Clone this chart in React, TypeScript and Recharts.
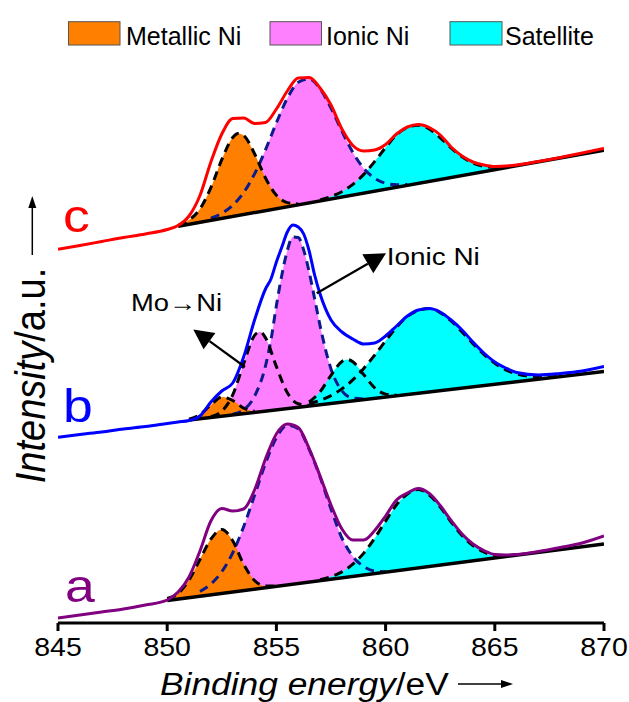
import * as React from "react"
import { ComposedChart, Area, Line, XAxis, YAxis } from "recharts"

// binding energy (eV), intensity (pixels above the x axis)
const ENV_A: [number, number][] = [
  [845, 5], [846, 8], [847, 11], [848, 14], [849, 18], [850, 23], [850.5, 31], [851, 46],
  [851.5, 72], [852, 102], [852.5, 114.5], [853, 112], [853.5, 114], [854, 133], [854.5, 164],
  [855, 189], [855.5, 199], [856, 195.5], [856.5, 174.5], [857, 147], [857.5, 118], [858, 94],
  [858.5, 83], [859, 83], [859.5, 92.5], [860, 107], [860.5, 123], [861, 130], [861.5, 134.5],
  [862, 129.5], [862.5, 117.5], [863, 102.5], [863.5, 89], [864, 79], [864.5, 72.5], [865, 68.5],
  [865.5, 68], [866, 68.5], [867, 71.5], [868, 75.5], [869, 80], [870, 87],
]
const ENV_B: [number, number][] = [
  [845, 185.7], [846, 188.5], [847, 191], [848, 194], [849, 196.5], [850, 199.5], [850.5, 201],
  [851, 202.5], [851.5, 207], [852, 221], [852.5, 232], [853, 240], [853.5, 266], [854, 303],
  [854.5, 334], [854.75, 344], [855, 361], [855.25, 376], [855.5, 391], [855.75, 398], [856, 396],
  [856.25, 389], [856.5, 372], [856.75, 348], [857, 329], [857.5, 303], [858, 291], [858.5, 284],
  [859, 279], [859.5, 280], [860, 287], [860.5, 297], [861, 307], [861.5, 313], [862, 314.5],
  [862.5, 311], [863, 303], [863.5, 293], [864, 281], [864.5, 270], [865, 261], [865.5, 255],
  [866, 250.5], [867, 248], [868, 249.5], [869, 252], [870, 256.5],
]
const ENV_C: [number, number][] = [
  [845, 373.7], [846, 377.5], [847, 381.5], [848, 385.5], [849, 389], [850, 393.5], [850.5, 397.5],
  [851, 407], [851.5, 427.5], [852, 461], [852.5, 489], [853, 504.5], [853.5, 505], [854, 499.5],
  [854.5, 500.5], [855, 514], [855.5, 532], [856, 545], [856.5, 545.5], [857, 535], [857.5, 518],
  [858, 494], [858.5, 477.5], [859, 472], [859.5, 473], [860, 478.5], [860.5, 489], [861, 496],
  [861.5, 498.5], [862, 495.5], [862.5, 488], [863, 476], [863.5, 467], [864, 461], [864.5, 458],
  [865, 456.5], [866, 458], [867, 461.5], [868, 465.5], [869, 470], [870, 474.7],
]

const BASE_A: [number, number][] = [[850, 22.5], [870, 79.1]]
const BASE_B: [number, number][] = [[851, 203], [870, 251.5]]
const BASE_C: [number, number][] = [[850.5, 396.8], [870, 472.8]]

// fitted peaks: energy, baseline, peak top
const METALLIC_A: [number, number, number][] = [
  [850, 22.5, 24.5], [850.5, 23.9, 29.5], [851, 25.3, 43], [851.5, 26.7, 63.5], [852, 28.2, 83.9],
  [852.5, 29.6, 93.6], [853, 31, 82.2], [853.5, 32.4, 58.7], [854, 33.8, 42.5], [854.5, 35.2, 37],
  [855, 36.7, 37.1],
]
const IONIC_A: [number, number, number][] = [
  [851.5, 26.7, 31.5], [852, 28.2, 38.9], [852.5, 29.6, 51.3], [853, 31, 70.2], [853.5, 32.4, 96.3],
  [854, 33.8, 127.7], [854.5, 35.2, 159.6], [855, 36.7, 185.2], [855.5, 38.1, 197.8], [856, 39.5, 194.2],
  [856.5, 40.9, 173.5], [857, 42.3, 146], [857.5, 43.7, 114], [858, 45.1, 85], [858.5, 46.6, 66.5],
  [859, 48, 56.5], [859.5, 49.4, 52], [860, 50.8, 51.3],
]
const SAT_A: [number, number, number][] = [
  [857, 42.3, 43.4], [857.5, 43.7, 46.4], [858, 45.1, 51.1], [858.5, 46.6, 58.8], [859, 48, 69.9],
  [859.5, 49.4, 84.8], [860, 50.8, 101.9], [860.5, 52.2, 118.2], [861, 53.6, 129], [861.5, 55.1, 133.5],
  [862, 56.5, 128], [862.5, 57.9, 116], [863, 59.3, 101], [863.5, 60.7, 87.5], [864, 62.1, 77.5],
  [864.5, 63.6, 71], [865, 65, 67], [865.5, 66.4, 67.4], [866, 67.8, 68.2],
]

const METALLIC_B: [number, number, number][] = [
  [851, 203, 203.7], [851.5, 204.3, 208.4], [852, 205.6, 218.1], [852.5, 206.9, 225.9],
  [853, 208.2, 222.5], [853.5, 209.4, 214.8], [854, 210.7, 211.7],
]
const MO_NI_B: [number, number, number][] = [
  [852, 205.6, 206.4], [852.5, 206.9, 211.8], [853, 208.2, 228.1], [853.5, 209.4, 259.3],
  [854, 210.7, 287.7], [854.25, 211.3, 291.3], [854.5, 212, 285.3], [855, 213.3, 256.4],
  [855.5, 214.5, 230.2], [856, 215.8, 219.3], [856.5, 217.1, 217.6],
]
const IONIC_B: [number, number, number][] = [
  [853, 208.2, 208.8], [853.5, 209.4, 213.2], [854, 210.7, 226.8], [854.5, 212, 257], [854.75, 212.6, 283],
  [855, 213.2, 317.5], [855.25, 213.9, 348], [855.5, 214.5, 372.5], [855.75, 215.2, 386], [856, 215.8, 385.5],
  [856.25, 216.4, 372.9], [856.5, 217.1, 351.1], [856.75, 217.7, 324.3], [857, 218.4, 297.2],
  [857.5, 219.6, 254.1], [858, 220.9, 232.1], [858.5, 222.2, 224.9], [859, 223.5, 224],
]
const SAT1_B: [number, number, number][] = [
  [856.5, 217.1, 221], [857, 218.4, 231.3], [857.5, 219.6, 247.7], [858, 220.9, 261.5],
  [858.25, 221.6, 263.5], [858.5, 222.2, 261.2], [859, 223.5, 248.3], [859.5, 224.7, 235.2],
  [860, 226, 228.9], [860.5, 227.3, 227.8],
]
const SAT2_B: [number, number, number][] = [
  [856.5, 217.1, 219.3], [857, 218.4, 222.7], [857.5, 219.6, 227.4], [858, 220.9, 234.1],
  [858.5, 222.2, 243.1], [859, 223.5, 254.6], [859.5, 224.7, 267.9], [860, 226, 282.1],
  [860.5, 227.3, 295.7], [861, 228.6, 306.6], [861.5, 229.8, 312.5], [862, 231.1, 314.4],
  [862.5, 232.4, 310.4], [863, 233.7, 302.1], [863.5, 234.9, 291], [864, 236.2, 279.4],
  [864.5, 237.5, 268.6], [865, 238.8, 259.7], [865.5, 240, 253.2], [866, 241.3, 249.1],
  [866.5, 242.6, 246.9], [867, 243.9, 246.1], [867.5, 245.1, 246.2], [868, 246.4, 246.9],
]

const METALLIC_C: [number, number, number][] = [
  [850.5, 396.8, 397.7], [851, 398.8, 402.9], [851.5, 400.7, 414.1], [852, 402.7, 435.3],
  [852.5, 404.6, 463.4], [853, 406.6, 485.6], [853.25, 407.5, 489.5], [853.5, 408.5, 487.5],
  [854, 410.5, 469.3], [854.5, 412.4, 445], [855, 414.4, 427.8], [855.5, 416.3, 420.4], [856, 418.2, 419.1],
]
const IONIC_C: [number, number, number][] = [
  [852, 402.7, 404.8], [852.5, 404.6, 409.6], [853, 406.6, 417.7], [853.5, 408.5, 430.4],
  [854, 410.5, 449.1], [854.5, 412.4, 473.2], [855, 414.4, 500.2], [855.5, 416.3, 524.7],
  [856, 418.2, 540.7], [856.5, 420.2, 544.1], [857, 422.1, 534.2], [857.5, 424.1, 514.9],
  [858, 426, 491.8], [858.5, 428, 470.6], [859, 429.9, 454.6], [859.5, 431.9, 444.7],
  [860, 433.8, 439.8], [860.5, 435.8, 438.3], [861, 437.7, 438.6],
]
const SAT_C: [number, number, number][] = [
  [857, 422.1, 423.1], [857.5, 424.1, 426.5], [858, 426, 431.3], [858.5, 428, 438.6],
  [859, 429.9, 448.6], [859.5, 431.9, 461.5], [860, 433.8, 475.4], [860.5, 435.8, 488.2],
  [861, 437.7, 495.5], [861.5, 439.7, 497.8], [862, 441.6, 494], [862.5, 443.6, 485.2],
  [863, 445.5, 475.1], [863.5, 447.5, 466.2], [864, 449.4, 460], [864.5, 451.4, 456.7],
  [865, 453.3, 455.7], [865.5, 455.3, 456.3],
]

const X_TICKS = [845, 850, 855, 860, 865, 870]

const ORANGE = "#ff8000"
const PINK = "#ff80ff"
const CYAN = "#00ffff"
const NAVY = "#0b1a8c"
const FONT = "'Liberation Sans', Arial, sans-serif"
const SX = 1.14 // the figure is slightly stretched sideways

const pts = (rows: [number, number][]) => rows.map(([e, v]) => ({ e, v }))
const band = (rows: [number, number, number][]) => rows.map(([e, lo, hi]) => ({ e, r: [lo, hi], v: hi }))

const Tick = (props: any) => {
  const { x, y, payload } = props
  return (
    <g transform={`translate(${x},${y})`}>
      <text transform={`scale(${SX},1)`} y={23} textAnchor="middle" fontSize={25} fontFamily={FONT} fill="#000">
        {payload.value}
      </text>
    </g>
  )
}

const Txt = ({ x, y, size, color = "#000", sx = SX, children }: any) => (
  <text transform={`translate(${x},${y}) scale(${sx},1)`} fontSize={size} fontFamily={FONT} fill={color}>
    {children}
  </text>
)

export default function App() {
  const fill = (rows: [number, number, number][], color: string, key: string) => (
    <Area key={key} data={band(rows)} dataKey="r" type="monotone" fill={color} fillOpacity={1}
      stroke="none" dot={false} activeDot={false} isAnimationActive={false} />
  )
  const dash = (rows: [number, number, number][], color: string, key: string) => (
    <Line key={key} data={band(rows)} dataKey="v" type="monotone" stroke={color} strokeWidth={3}
      strokeDasharray="9 6" dot={false} activeDot={false} isAnimationActive={false} />
  )
  const solid = (rows: [number, number][], color: string, key: string, w = 3) => (
    <Line key={key} data={pts(rows)} dataKey="v" type="monotone" stroke={color} strokeWidth={w}
      dot={false} activeDot={false} isAnimationActive={false} />
  )

  return (
    <div style={{ position: "absolute", left: 0, top: 0, width: 629, height: 702, background: "#fff" }}>
      <ComposedChart width={629} height={702} margin={{ top: 14, right: 25, bottom: 39, left: 58 }}>
        <XAxis dataKey="e" type="number" domain={[845, 870]} ticks={X_TICKS} allowDataOverflow
          height={40} tickSize={8} tick={<Tick />} axisLine={{ stroke: "#000", strokeWidth: 3 }}
          tickLine={{ stroke: "#000", strokeWidth: 3 }} />
        <YAxis type="number" domain={[0, 609]} allowDataOverflow width={0} tick={false} tickLine={false}
          axisLine={{ stroke: "#000", strokeWidth: 3 }} />

        {/* filled components */}
        {fill(IONIC_A, PINK, "fa1")}
        {fill(SAT_A, CYAN, "fa2")}
        {fill(METALLIC_A, ORANGE, "fa3")}
        {fill(IONIC_B, PINK, "fb1")}
        {fill(MO_NI_B, PINK, "fb2")}
        {fill(SAT2_B, CYAN, "fb3")}
        {fill(SAT1_B, CYAN, "fb4")}
        {fill(METALLIC_B, ORANGE, "fb5")}
        {fill(IONIC_C, PINK, "fc1")}
        {fill(SAT_C, CYAN, "fc2")}
        {fill(METALLIC_C, ORANGE, "fc3")}

        {/* dashed peak outlines */}
        {dash(IONIC_A, NAVY, "da1")}
        {dash(SAT_A, "#000", "da2")}
        {dash(METALLIC_A, "#000", "da3")}
        {dash(IONIC_B, NAVY, "db1")}
        {dash(MO_NI_B, "#000", "db2")}
        {dash(SAT2_B, "#000", "db3")}
        {dash(SAT1_B, "#000", "db4")}
        {dash(METALLIC_B, "#000", "db5")}
        {dash(IONIC_C, NAVY, "dc1")}
        {dash(SAT_C, "#000", "dc2")}
        {dash(METALLIC_C, "#000", "dc3")}

        {/* backgrounds */}
        {solid(BASE_A, "#000", "ba", 3.5)}
        {solid(BASE_B, "#000", "bb", 3.5)}
        {solid(BASE_C, "#000", "bc", 3.5)}

        {/* measured envelopes */}
        {solid(ENV_A, "#800080", "ea")}
        {solid(ENV_B, "#0000ff", "eb")}
        {solid(ENV_C, "#ff0000", "ec")}
      </ComposedChart>

      <svg width={629} height={702} style={{ position: "absolute", left: 0, top: 0, pointerEvents: "none" }}>
        {/* legend */}
        <rect x={68.5} y={21.7} width={51.5} height={23.3} fill={ORANGE} stroke="#555" strokeWidth={1} />
        <Txt x={126} y={45} size={25} sx={1}>Metallic Ni</Txt>
        <rect x={270} y={21.7} width={51.5} height={23.3} fill={PINK} stroke="#555" strokeWidth={1} />
        <Txt x={326} y={45} size={25} sx={1}>Ionic Ni</Txt>
        <rect x={450} y={21.7} width={52} height={23.3} fill={CYAN} stroke="#555" strokeWidth={1} />
        <Txt x={505} y={45} size={25} sx={1}>Satellite</Txt>

        {/* sample labels */}
        <Txt x={63} y={232} size={47} color="#ff0000">c</Txt>
        <Txt x={63} y={422} size={47} color="#0000ff">b</Txt>
        <Txt x={65} y={602} size={47} color="#800080">a</Txt>

        {/* annotations */}
        <Txt x={131} y={310.7} size={24}>Mo→Ni</Txt>
        <line x1={245} y1={367} x2={209.5} y2={341.2} stroke="#000" strokeWidth={2.2} />
        <polygon points="193.3,329.5 215.4,333.1 203.6,349.3" fill="#000" />
        <Txt x={386.7} y={265} size={24.5}>Ionic Ni</Txt>
        <line x1={316.7} y1={293.3} x2={367.8} y2={263.8} stroke="#000" strokeWidth={2.2} />
        <polygon points="386,253.3 373.3,273.3 362.3,254.3" fill="#000" />

        {/* axis titles */}
        <Txt x={160} y={695} size={31}>
          <tspan fontStyle="italic">Binding energy</tspan>/eV
        </Txt>
        <line x1={458} y1={684} x2={502} y2={684} stroke="#000" strokeWidth={1.5} />
        <polygon points="513,684 501,680 501,688" fill="#000" />
        <text transform={`translate(45,375.5) rotate(-90) scale(1,${SX})`} textAnchor="middle"
          fontSize={38} fontFamily={FONT} fill="#000">
          <tspan fontStyle="italic">Intensity</tspan>/a.u.
        </text>
        <line x1={32.3} y1={255} x2={32.3} y2={207} stroke="#000" strokeWidth={1.5} />
        <polygon points="32.3,196 28.3,208 36.3,208" fill="#000" />
      </svg>
    </div>
  )
}
